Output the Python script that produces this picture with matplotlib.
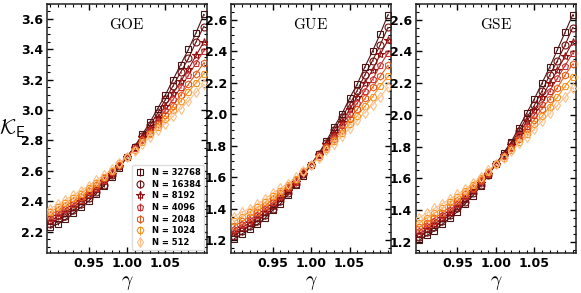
import matplotlib
matplotlib.use("Agg")
import matplotlib.pyplot as plt
from matplotlib.ticker import MultipleLocator

plt.rcParams.update(
    {
        "mathtext.fontset": "cm",
        "font.family": "DejaVu Sans",
        "font.weight": "bold",
        "xtick.direction": "in",
        "ytick.direction": "in",
        "xtick.top": True,
        "ytick.right": True,
    }
)

# ── Data ─────────────────────────────────────────────────────────────────────
gamma = [0.90, 0.91, 0.92, 0.93, 0.94, 0.95, 0.96, 0.97, 0.98, 0.99, 1.00,
         1.01, 1.02, 1.03, 1.04, 1.05, 1.06, 1.07, 1.08, 1.09, 1.10]
sizes = [32768, 16384, 8192, 4096, 2048, 1024, 512]

goe_32768 = [2.23, 2.25, 2.28, 2.32, 2.36, 2.40, 2.45, 2.50, 2.56, 2.62, 2.69,
             2.76, 2.84, 2.92, 3.01, 3.10, 3.20, 3.30, 3.40, 3.51, 3.63]
goe_16384 = [2.25, 2.28, 2.30, 2.34, 2.38, 2.42, 2.46, 2.51, 2.57, 2.63, 2.69,
             2.76, 2.83, 2.90, 2.98, 3.07, 3.16, 3.25, 3.34, 3.45, 3.55]
goe_8192 = [2.27, 2.30, 2.33, 2.36, 2.40, 2.44, 2.48, 2.53, 2.58, 2.63, 2.69,
            2.75, 2.82, 2.88, 2.95, 3.03, 3.11, 3.19, 3.27, 3.36, 3.45]
goe_4096 = [2.29, 2.32, 2.35, 2.38, 2.41, 2.45, 2.49, 2.54, 2.59, 2.64, 2.69,
            2.75, 2.81, 2.87, 2.93, 3.00, 3.07, 3.15, 3.23, 3.31, 3.39]
goe_2048 = [2.31, 2.34, 2.37, 2.40, 2.43, 2.47, 2.51, 2.55, 2.60, 2.64, 2.69,
            2.74, 2.80, 2.85, 2.91, 2.97, 3.03, 3.10, 3.17, 3.24, 3.31]
goe_1024 = [2.33, 2.36, 2.39, 2.42, 2.45, 2.49, 2.52, 2.56, 2.60, 2.65, 2.69,
            2.74, 2.79, 2.84, 2.89, 2.94, 3.00, 3.06, 3.12, 3.18, 3.24]
goe_512 = [2.35, 2.38, 2.41, 2.44, 2.47, 2.50, 2.54, 2.57, 2.61, 2.65, 2.69,
           2.73, 2.78, 2.82, 2.87, 2.91, 2.96, 3.01, 3.06, 3.12, 3.17]

gue_32768 = [1.21, 1.24, 1.27, 1.30, 1.34, 1.39, 1.43, 1.49, 1.55, 1.61, 1.68,
             1.75, 1.83, 1.92, 2.00, 2.10, 2.19, 2.30, 2.40, 2.51, 2.63]
gue_16384 = [1.23, 1.26, 1.29, 1.32, 1.36, 1.40, 1.45, 1.50, 1.56, 1.62, 1.68,
             1.75, 1.82, 1.90, 1.98, 2.06, 2.15, 2.25, 2.34, 2.44, 2.55]
gue_8192 = [1.25, 1.28, 1.31, 1.34, 1.38, 1.42, 1.47, 1.51, 1.57, 1.62, 1.68,
            1.74, 1.81, 1.88, 1.95, 2.03, 2.11, 2.20, 2.28, 2.38, 2.47]
gue_4096 = [1.27, 1.30, 1.33, 1.36, 1.40, 1.44, 1.48, 1.53, 1.57, 1.63, 1.68,
            1.74, 1.80, 1.86, 1.93, 2.00, 2.07, 2.15, 2.22, 2.31, 2.39]
gue_2048 = [1.29, 1.32, 1.35, 1.38, 1.42, 1.46, 1.50, 1.54, 1.58, 1.63, 1.68,
            1.73, 1.79, 1.84, 1.90, 1.97, 2.03, 2.10, 2.17, 2.24, 2.31]
gue_1024 = [1.32, 1.35, 1.38, 1.41, 1.44, 1.48, 1.51, 1.55, 1.59, 1.64, 1.68,
            1.73, 1.78, 1.83, 1.88, 1.94, 1.99, 2.05, 2.11, 2.18, 2.24]
gue_512 = [1.35, 1.38, 1.40, 1.43, 1.46, 1.50, 1.53, 1.56, 1.60, 1.64, 1.68,
           1.72, 1.77, 1.81, 1.86, 1.91, 1.96, 2.01, 2.06, 2.11, 2.17]

gse_32768 = [1.21, 1.24, 1.27, 1.31, 1.35, 1.39, 1.44, 1.49, 1.55, 1.62, 1.69,
             1.76, 1.83, 1.92, 2.01, 2.10, 2.20, 2.30, 2.41, 2.52, 2.63]
gse_16384 = [1.23, 1.26, 1.29, 1.33, 1.37, 1.41, 1.45, 1.51, 1.56, 1.62, 1.69,
             1.75, 1.82, 1.90, 1.98, 2.06, 2.15, 2.25, 2.34, 2.44, 2.55]
gse_8192 = [1.25, 1.28, 1.31, 1.35, 1.38, 1.42, 1.47, 1.52, 1.57, 1.63, 1.69,
            1.75, 1.81, 1.88, 1.96, 2.03, 2.11, 2.20, 2.28, 2.37, 2.46]
gse_4096 = [1.27, 1.30, 1.33, 1.37, 1.40, 1.44, 1.49, 1.53, 1.58, 1.63, 1.69,
            1.74, 1.80, 1.87, 1.93, 2.00, 2.07, 2.15, 2.23, 2.31, 2.39]
gse_2048 = [1.29, 1.32, 1.35, 1.38, 1.42, 1.46, 1.50, 1.54, 1.59, 1.64, 1.69,
            1.74, 1.79, 1.85, 1.91, 1.97, 2.04, 2.10, 2.17, 2.25, 2.32]
gse_1024 = [1.32, 1.35, 1.38, 1.41, 1.45, 1.48, 1.52, 1.56, 1.60, 1.64, 1.69,
            1.73, 1.78, 1.83, 1.88, 1.94, 1.99, 2.05, 2.11, 2.18, 2.24]
gse_512 = [1.35, 1.38, 1.41, 1.44, 1.47, 1.50, 1.53, 1.57, 1.61, 1.65, 1.69,
           1.73, 1.77, 1.82, 1.86, 1.91, 1.96, 2.01, 2.06, 2.11, 2.17]

panels = [
    ("GOE", [goe_32768, goe_16384, goe_8192, goe_4096, goe_2048, goe_1024, goe_512],
     (2.06, 3.70), [2.2, 2.4, 2.6, 2.8, 3.0, 3.2, 3.4, 3.6]),
    ("GUE", [gue_32768, gue_16384, gue_8192, gue_4096, gue_2048, gue_1024, gue_512],
     (1.12, 2.70), [1.2, 1.4, 1.6, 1.8, 2.0, 2.2, 2.4, 2.6]),
    ("GSE", [gse_32768, gse_16384, gse_8192, gse_4096, gse_2048, gse_1024, gse_512],
     (1.13, 2.70), [1.2, 1.4, 1.6, 1.8, 2.0, 2.2, 2.4, 2.6]),
]

# ── Styles ───────────────────────────────────────────────────────────────────
COLORS = ["#4a1414", "#6e0f0f", "#930f0f", "#c8302e", "#e85a1c", "#f7921f", "#fcc08a"]
MARKERS = ["s", "o", "*", "p", "h", "H", "d"]

fig = plt.figure(figsize=(5.81, 2.93), dpi=100)
lefts = [0.081, 0.398, 0.716]
width = 0.275

for i, (name, series, ylim, yticks) in enumerate(panels):
    ax = fig.add_axes([lefts[i], 0.137, width, 0.85])
    for vals, n, c, m in zip(series, sizes, COLORS, MARKERS):
        ax.plot(gamma, vals, "-", color=c, lw=0.8, zorder=2)
        ax.errorbar(
            gamma, vals, yerr=0.004, fmt=m, color=c, mfc="none", mec=c,
            ms=5 if m != "*" else 6, mew=0.8, elinewidth=0.8, capsize=0,
            label=f"N = {n}", zorder=3,
        )
    ax.set_xlim(0.896, 1.104)
    ax.set_ylim(*ylim)
    ax.set_xticks([0.95, 1.00, 1.05])
    ax.set_yticks(yticks)
    ax.xaxis.set_minor_locator(MultipleLocator(0.01))
    ax.yaxis.set_minor_locator(MultipleLocator(0.05))
    ax.tick_params(which="major", length=4.5, width=1, labelsize=9, pad=3)
    ax.tick_params(which="minor", length=2.5, width=0.8)
    for lab in ax.get_xticklabels() + ax.get_yticklabels():
        lab.set_fontweight("bold")
    for sp in ax.spines.values():
        sp.set_linewidth(1.1)
        sp.set_color("#222222")
    ax.set_xlabel(r"$\gamma$", fontsize=14, labelpad=2)
    ax.text(0.5, 0.915, r"$\mathrm{%s}$" % name, transform=ax.transAxes,
            ha="center", va="center", fontsize=11)
    if i == 0:
        ax.set_ylabel(r"$\mathcal{K}_\mathsf{E}$", fontsize=15, rotation=0,
                      va="center", ha="center")
        ax.yaxis.set_label_coords(-0.215, 0.50)
        ax.legend(
            loc="lower right", prop={"weight": "bold", "size": 6},
            borderaxespad=0.3, handlelength=1.2, handletextpad=0.8,
            labelspacing=0.32, framealpha=1, edgecolor="#dddddd",
        )

fig.savefig("out.png", dpi=100)
